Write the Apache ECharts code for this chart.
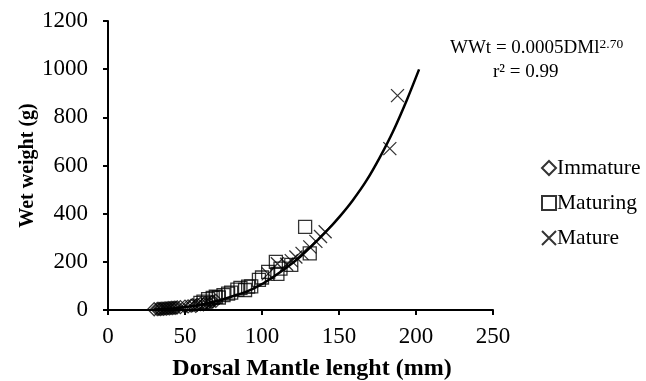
<!DOCTYPE html>
<html>
<head>
<meta charset="utf-8">
<script src="https://cdn.jsdelivr.net/npm/echarts@6/dist/echarts.min.js"></script>
<style>
html,body{margin:0;padding:0;background:#fff;}
#chart{width:646px;height:381px;}
</style>
</head>
<body>
<div id="chart"></div>
<script>
var xTicks = [0, 50, 100, 150, 200, 250];
var yTicks = [0, 200, 400, 600, 800, 1000, 1200];

var immature = [[30,3],[32,4],[33,5],[34,4],[35,6],[36,5],[37,7],[38,6],[39,8],[40,7],[41,9],[42,8],[43,10],[44,9],[45,11],[47,12],[50,14],[52,15],[54,18],[55,20],[57,17],[58,22],[60,25],[62,24],[63,28],[65,30],[67,33],[68,35],[70,38]];
var maturing = [[60,30],[62,35],[65,45],[68,50],[70,55],[72,52],[75,62],[78,68],[80,72],[84,85],[86,92],[89,83],[91,97],[93,98],[98,125],[100,135],[104,158],[109,200],[110,150],[112,172],[119,187],[128,345],[131,235]];
var mature = [[104,150],[110,192],[116,190],[119,205],[122,220],[126,235],[131,262],[135,285],[138,305],[141,325],[183,670],[188,890]];
var trend = [[30,2],[40,5],[50,12],[60,22],[70,36],[80,55],[90,76],[99,104],[107.5,138],[116,176],[125,222],[133,270],[142,328],[150.7,390],[159,456],[168,539],[176.7,636],[185,740],[194,871],[202,999]];

var FONT = "'Times New Roman', 'Liberation Serif', serif";
var chart = echarts.init(document.getElementById('chart'));
var hollow = {color: 'rgba(0,0,0,0)', borderColor: '#000', borderWidth: 1.3};
chart.setOption({
  animation: false,
  backgroundColor: '#fff',
  grid: {left: 108, right: 153, top: 21, bottom: 71, outerBoundsMode: 'none', containLabel: false},
  legend: {
    orient: 'vertical', left: 536, top: 152,
    itemWidth: 14, itemHeight: 14, itemGap: 13,
    data: ['Immature', 'Maturing', 'Mature'],
    textStyle: {fontFamily: FONT, fontSize: 21.5, color: '#000', padding: [0,0,0,-4]}
  },
  xAxis: {
    type: 'value', min: xTicks[0], max: xTicks[xTicks.length-1], interval: 50,
    splitLine: {show: false},
    axisLine: {lineStyle: {color: '#000', width: 2}},
    axisTick: {lineStyle: {color: '#000', width: 2}, length: 5},
    axisLabel: {fontFamily: FONT, fontSize: 23, color: '#000', margin: 15},
    name: 'Dorsal Mantle lenght (mm)', nameLocation: 'middle', nameGap: 47, nameMoveOverlap: false,
    nameTextStyle: {fontFamily: FONT, fontSize: 24, fontWeight: 'bold', color: '#000', padding: [0,0,0,23]}
  },
  yAxis: {
    type: 'value', min: yTicks[0], max: yTicks[yTicks.length-1], interval: 200,
    splitLine: {show: false},
    axisLine: {show: true, lineStyle: {color: '#000', width: 2}},
    axisTick: {show: true, lineStyle: {color: '#000', width: 2}, length: 5},
    axisLabel: {fontFamily: FONT, fontSize: 23, color: '#000', margin: 20, formatter: function (v) { return String(v); }},
    name: 'Wet weight (g)', nameLocation: 'middle', nameGap: 70, nameMoveOverlap: false,
    nameTextStyle: {fontFamily: FONT, fontSize: 20, fontWeight: 'bold', color: '#000'}
  },
  graphic: [
    {type: 'text', left: 450, top: 37, style: {
      text: '{a|WWt = 0.0005DMl}{s|2.70}',
      rich: {a: {fontFamily: FONT, fontSize: 19, fill: '#000'}, s: {fontFamily: FONT, fontSize: 13.5, fill: '#000', verticalAlign: 'top', padding: [0,0,8,0]}}
    }},
    {type: 'text', left: 493, top: 63, style: {
      text: 'r² = 0.99', font: '19px ' + FONT, fill: '#000'
    }}
  ],
  series: [
    {name: 'Immature', type: 'scatter', data: immature, symbol: 'path://M5,0L10,5L5,10L0,5Z', symbolSize: 13, itemStyle: hollow},
    {name: 'Maturing', type: 'scatter', data: maturing, symbol: 'rect', symbolSize: 13, itemStyle: hollow},
    {name: 'Mature', type: 'scatter', data: mature, symbol: 'path://M0,0L10,10M10,0L0,10', symbolSize: 13, itemStyle: hollow},
    {name: 'trend', type: 'line', data: trend, smooth: 0.3, showSymbol: false, lineStyle: {color: '#000', width: 2.5}, z: 5}
  ]
});
</script>
</body>
</html>
